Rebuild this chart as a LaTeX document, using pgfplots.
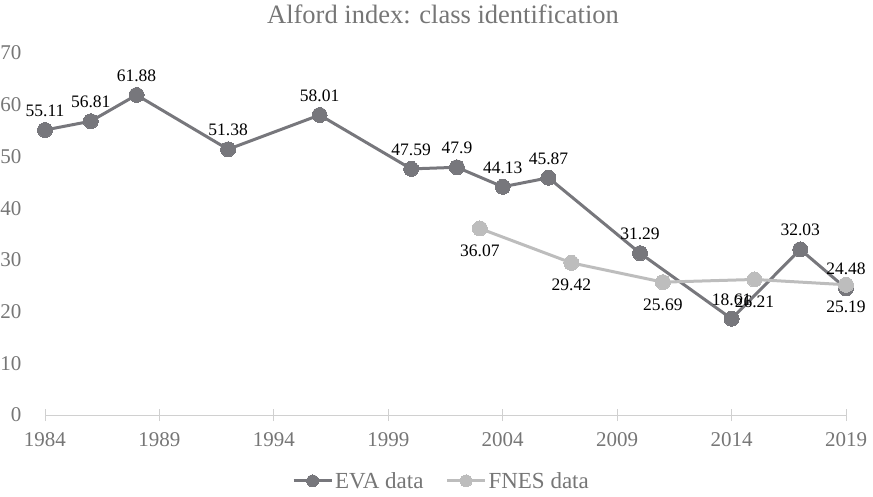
\documentclass[border=0pt]{standalone}
\usepackage{fontspec}
\setmainfont{Liberation Serif}
\usepackage{pgfplots}
\pgfplotsset{compat=1.18}
\definecolor{eva}{HTML}{77777C}
\definecolor{fnes}{HTML}{BDBDBD}
\definecolor{txt}{HTML}{767676}
\definecolor{axl}{HTML}{D0D0D0}
\begin{document}
\begin{tikzpicture}[x=1pt,y=1pt]
\path[use as bounding box] (0,0) rectangle (873,496);
\node[font=\fontsize{26.5}{30}\selectfont, text=txt] at (443,482) {Alford index: class identification};
\begin{axis}[
  at={(45pt,81pt)}, anchor=south west,
  width=801pt, height=362pt, scale only axis,
  xmin=1984, xmax=2019, ymin=0, ymax=70,
  clip=false,
  axis x line*=bottom, axis y line*=left,
  y axis line style={draw=none},
  x axis line style={draw=axl, line width=1pt},
  xtick={1984,1989,...,2019},
  ytick={0,10,...,70},
  major tick length=12pt,
  tick align=center,
  y tick style={draw=none},
  x tick style={draw=axl, line width=1pt},
  /pgf/number format/assume math mode=true,
  /pgf/number format/1000 sep={},
  tick label style={font=\fontsize{21}{24}\selectfont, text=txt},
  yticklabel style={xshift=-14pt},
  xticklabel style={yshift=-8pt},
  legend style={at={(0.495,-0.182)}, anchor=center, draw=none, fill=none,
    font=\fontsize{23}{26}\selectfont, text=txt,
    /tikz/every even column/.append style={column sep=20pt}},
  legend columns=2,
  legend image code/.code={
    \draw[#1, mark=none] (0pt,0pt) -- (38pt,0pt);
    \draw[#1, mark size=6pt] plot coordinates {(19pt,0pt)};
  },
]
\addplot[eva, line width=3pt, mark=*, mark size=7.5pt,
  mark options={fill=eva, draw=eva, line width=0pt},
  nodes near coords, point meta=explicit symbolic,
  every node near coord/.append style={font=\fontsize{17.5}{20}\selectfont, text=black, anchor=south, yshift=10pt}]
coordinates {
(1984,55.11) [55.11]
(1986,56.81) [56.81]
(1988,61.88) [61.88]
(1992,51.38) [51.38]
(1996,58.01) [58.01]
(2000,47.59) [47.59]
(2002,47.9) [47.9]
(2004,44.13) [44.13]
(2006,45.87) [45.87]
(2010,31.29) [31.29]
(2014,18.61) [18.61]
(2017,32.03) [32.03]
(2019,24.48) [24.48]
};
\addlegendentry{EVA data}
\addplot[fnes, line width=3pt, mark=*, mark size=7.5pt,
  mark options={fill=fnes, draw=fnes, line width=0pt},
  nodes near coords, point meta=explicit symbolic,
  every node near coord/.append style={font=\fontsize{17.5}{20}\selectfont, text=black, anchor=north, yshift=-13pt}]
coordinates {
(2003,36.07) [36.07]
(2007,29.42) [29.42]
(2011,25.69) [25.69]
(2015,26.21) [26.21]
(2019,25.19) [25.19]
};
\addlegendentry{FNES data}
\end{axis}
\end{tikzpicture}
\end{document}
